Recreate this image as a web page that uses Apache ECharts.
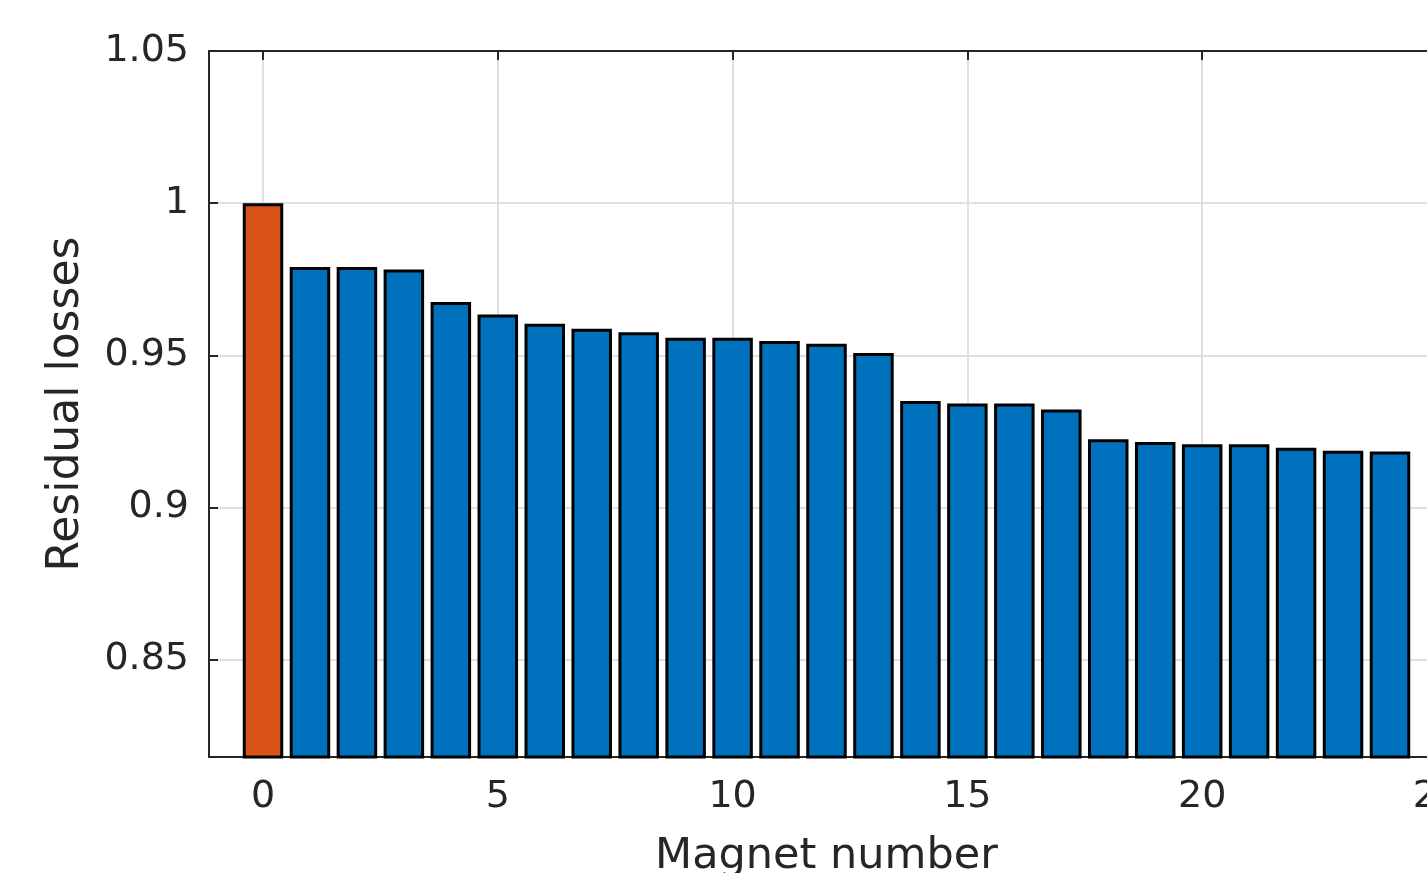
<!DOCTYPE html>
<html>
<head>
<meta charset="utf-8">
<script src="https://cdn.jsdelivr.net/npm/echarts@6/dist/echarts.min.js"></script>
<style>
html,body{margin:0;padding:0;background:#fff;overflow:hidden;width:1427px;height:873px;}
#chart{width:1444px;height:873px;}
</style>
</head>
<body>
<div id="chart"></div>
<script>
const magnets = [0,1,2,3,4,5,6,7,8,9,10,11,12,13,14,15,16,17,18,19,20,21,22,23,24];
const losses = [1.000,0.979,0.979,0.9782,0.9675,0.9634,0.9604,0.9587,0.9576,0.9558,0.9558,0.9547,0.9538,0.9508,
  0.935,0.9342,0.9342,0.9322,0.9224,0.9215,0.9208,0.9208,0.9196,0.9186,0.9184];
const xTicks = [0,5,10,15,20,25];
const yTicks = [0.85,0.9,0.95,1,1.05];
const xLabel = 'Magnet number';
const yLabel = 'Residual losses';

const FONT = 'DejaVu Sans';
const TXT = '#262626';
const chart = echarts.init(document.getElementById('chart'), null, {renderer:'canvas', width:1444, height:873});
const data = magnets.map((m,i)=>({
  value:[m, losses[i]],
  itemStyle:{color: i===0 ? '#D95319' : '#0072BD'}
}));
chart.setOption({
  animation:false,
  backgroundColor:'#fff',
  grid:{left:209, top:51, right:0, bottom:116, containLabel:false, outerBoundsMode:'none'},
  xAxis:[{
    type:'value', min:-1.15, max:25.15,
    name:xLabel, nameLocation:'middle', nameGap:78,
    nameTextStyle:{fontFamily:FONT, fontSize:43, color:TXT},
    axisLine:{show:true, onZero:false, lineStyle:{color:TXT, width:2}},
    axisTick:{show:true, inside:true, length:9, lineStyle:{color:TXT, width:2}, customValues:xTicks},
    axisLabel:{fontFamily:FONT, fontSize:38, color:TXT, margin:21, customValues:xTicks},
    splitLine:{show:true, lineStyle:{color:'#e0e0e0', width:2}}
  },{
    type:'value', position:'top', min:-1.15, max:25.15,
    axisLine:{show:true, onZero:false, lineStyle:{color:TXT, width:2}},
    axisTick:{show:true, inside:true, length:9, lineStyle:{color:TXT, width:2}, customValues:xTicks},
    axisLabel:{show:false, customValues:xTicks},
    splitLine:{show:false}
  }],
  yAxis:[{
    type:'value', min:0.818, max:1.05, position:'left',
    name:yLabel, nameLocation:'middle', nameGap:120, nameRotate:90,
    nameTextStyle:{fontFamily:FONT, fontSize:44, color:TXT},
    axisLine:{show:true, onZero:false, lineStyle:{color:TXT, width:2}},
    axisTick:{show:true, inside:true, length:9, lineStyle:{color:TXT, width:2}, customValues:yTicks},
    axisLabel:{fontFamily:FONT, fontSize:38, color:TXT, margin:20, customValues:yTicks,
      formatter:v=>String(Math.round(v*100)/100)},
    splitLine:{show:true, lineStyle:{color:'#e0e0e0', width:2}}
  },{
    type:'value', min:0.818, max:1.05, position:'right',
    axisLine:{show:true, onZero:false, lineStyle:{color:TXT, width:2}},
    axisTick:{show:false},
    axisLabel:{show:false},
    splitLine:{show:false}
  }],
  series:[{
    type:'bar', xAxisIndex:0, yAxisIndex:0,
    barWidth:40.5,
    itemStyle:{borderColor:'#000', borderWidth:3},
    data:data
  }]
});
</script>
</body>
</html>
